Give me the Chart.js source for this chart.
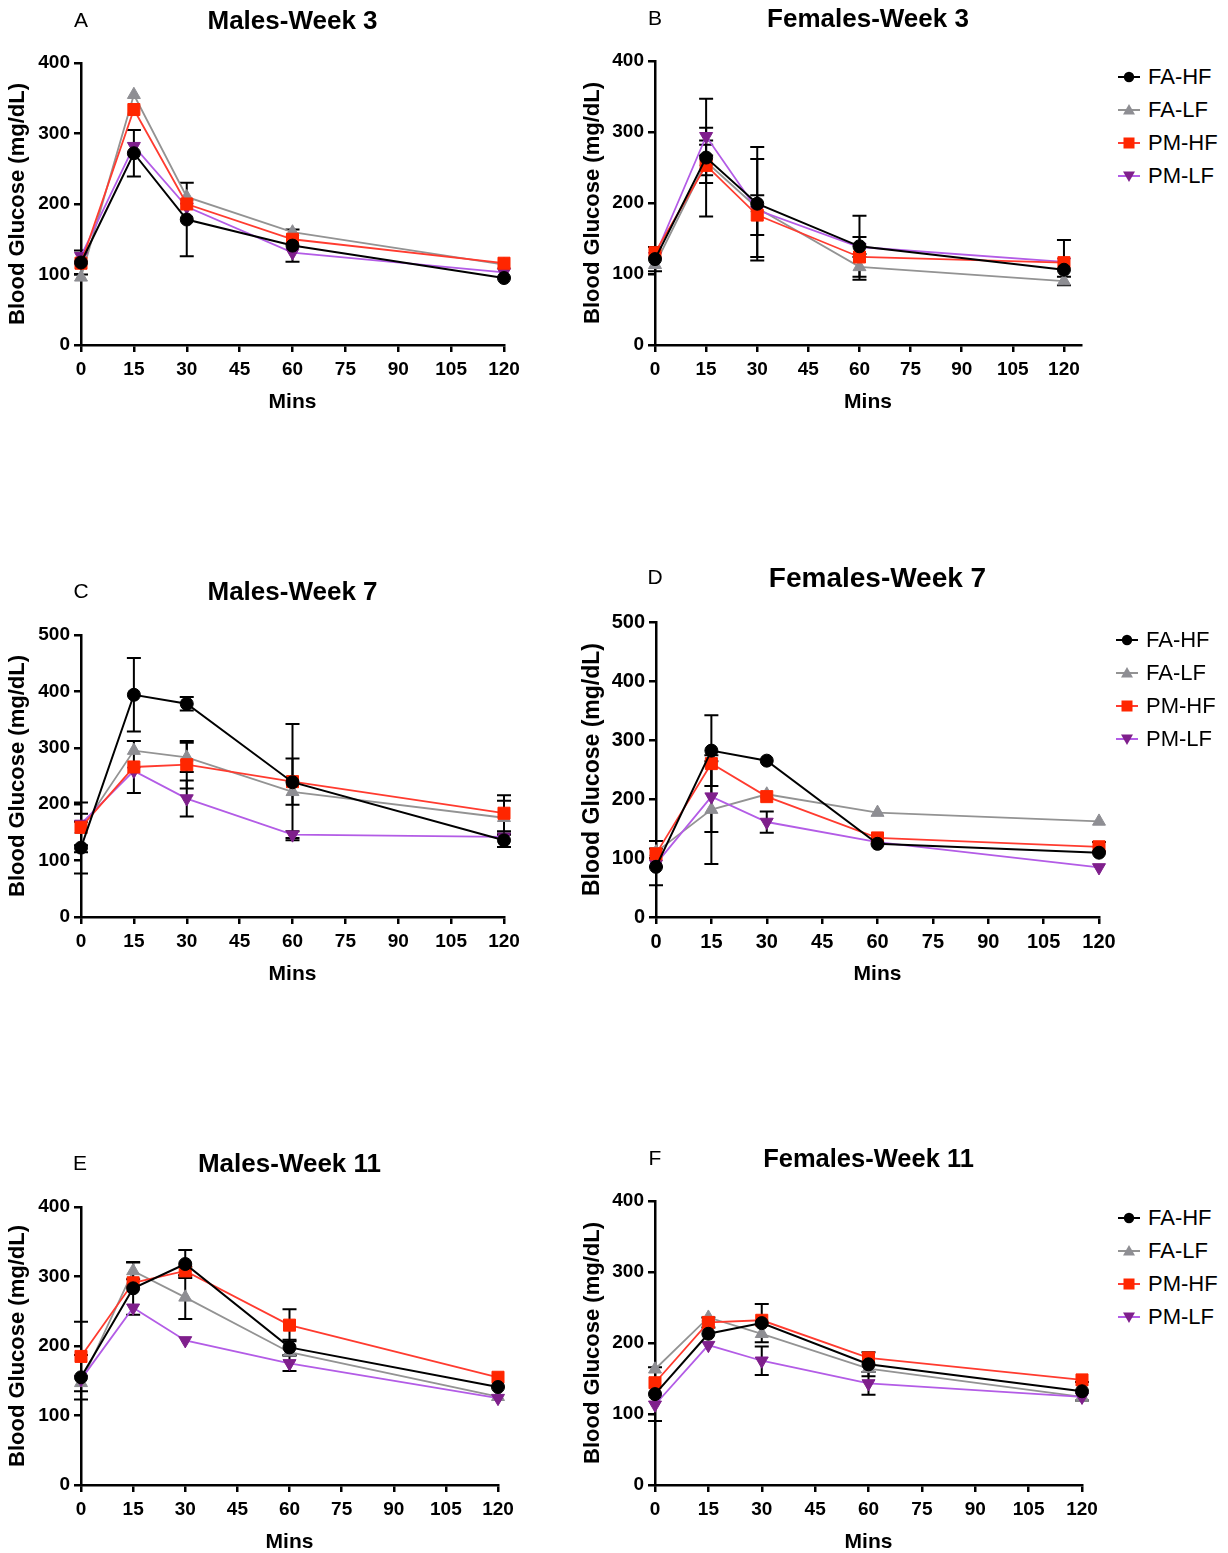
<!DOCTYPE html>
<html><head><meta charset="utf-8">
<script src="https://cdn.jsdelivr.net/npm/chart.js@4.4.1/dist/chart.umd.min.js"></script>
<style>
html,body{margin:0;padding:0;background:#fff;}
body{width:1228px;height:1553px;position:relative;overflow:hidden;font-family:"Liberation Sans",Arial,Helvetica,sans-serif;}
.letter{position:absolute;font-size:21px;line-height:24px;color:#000;transform:translate(-50%,-50%);}
.legrow{position:absolute;height:24px;display:flex;align-items:center;font-size:22px;color:#000;white-space:nowrap;}
.legrow svg{display:block;margin-right:8px;}
</style></head><body>
<script>
// ---------- data ----------
const minutes = [0, 15, 30, 60, 120];
const seriesNames = ['FA-HF', 'FA-LF', 'PM-HF', 'PM-LF'];
const panelLetters = ['A', 'B', 'C', 'D', 'E', 'F'];
const panelTitles = ['Males-Week 3', 'Females-Week 3', 'Males-Week 7', 'Females-Week 7', 'Males-Week 11', 'Females-Week 11'];
const yAxisTitle = 'Blood Glucose (mg/dL)';
const xAxisTitle = 'Mins';
const xTickValues = [0, 15, 30, 45, 60, 75, 90, 105, 120];
const yTickStep = 100;
const yAxisMax = [400, 400, 500, 500, 400, 400];

// rows: FA-HF, FA-LF, PM-HF, PM-LF ; columns follow `minutes`
const meanA = [[117, 272, 178, 141, 95], [96, 355, 210, 160, 114], [116, 334, 200, 150, 116], [126, 282, 196, 131, 103]];
const semA  = [[17, 33, 52, 23, 0], [0, 0, 0, 0, 0], [0, 0, 0, 0, 0], [0, 0, 0, 0, 0]];
const meanB = [[121, 264, 199, 139, 106], [113, 258, 193, 110, 90], [130, 253, 183, 124, 116], [125, 294, 190, 138, 117]];
const semB  = [[17, 83, 80, 43, [42, 0]], [0, 30, 69, 18, 6], [0, 14, 28, 0, 0], [0, 12, 0, 14, 0]];
const meanC = [[123, 394, 378, 239, 136], [155, 295, 283, 222, 176], [159, 266, 270, 240, 184], [165, 259, 210, 146, 142]];
const semC  = [[46, 65, 12, 103, 12], [28, 0, 26, 0, 30], [44, 46, 42, 41, 32], [0, 0, 32, 6, 0]];
const meanD = [[85, 282, 265, 124, 109], [110, 182, 208, 177, 162], [107, 260, 204, 134, 119], [90, 204, 161, 127, 84]];
const semD  = [[31, 60, 0, 0, 0], [0, 92, 0, 0, 0], [22, 0, 0, 0, 8], [0, 60, 18, 0, 0]];
const meanE = [[155, 283, 318, 198, 141], [147, 308, 270, 191, 127], [185, 291, 308, 230, 155], [152, 255, 208, 175, 125]];
const semE  = [[32, 38, 20, 11, 0], [0, 12, 31, 0, 0], [50, 0, 6, 23, 0], [0, 0, 0, 11, 0]];
const meanF = [[128, 213, 228, 170, 132], [163, 236, 213, 164, 124], [144, 229, 232, 179, 148], [113, 197, 175, 143, 124]];
const semF  = [[38, 0, 27, 17, 13], [0, 0, 0, 0, 0], [0, 7, 0, 0, 0], [0, 0, 20, 16, 0]];

const panelMeans = [meanA, meanB, meanC, meanD, meanE, meanF];
const panelSems = [semA, semB, semC, semD, semE, semF];

// ---------- styling / layout ----------
const FONT = '"Liberation Sans", Arial, Helvetica, sans-serif';
const seriesStyle = [
  { line: '#000000', fill: '#000000', shape: 'circle',   r: 6.5, rot: 0,   w: 2,   order: 0 },
  { line: '#939393', fill: '#8e8e93', shape: 'triangle', r: 7.5, rot: 0,   w: 1.8, order: 3 },
  { line: '#ff3b2f', fill: '#ff2600', shape: 'rect',     r: 8.5, rot: 0,   w: 1.8, order: 1 },
  { line: '#b35ce6', fill: '#7f1f8c', shape: 'triangle', r: 7.5, rot: 180, w: 1.8, order: 2 }
];
const panels = [
  { L: 81,  T: 63,   R: 504,  B: 345,  cx: 0,   xMax: 120, titleY: 22,   titleSize: 26,   yTitleX: 18,  yTitleSize: 22, tickSize: 19, letterX: 81,  letterY: 20 },
  { L: 655, T: 61,   R: 1081, B: 345,  cx: 574, xMax: 125, titleY: 20,   titleSize: 26,   yTitleX: 593, yTitleSize: 22, tickSize: 19, letterX: 655, letterY: 18,  legend: { x: 1118, y: 77 } },
  { L: 81,  T: 635,  R: 504,  B: 917,  cx: 0,   xMax: 120, titleY: 593,  titleSize: 26,   yTitleX: 18,  yTitleSize: 22, tickSize: 19, letterX: 81,  letterY: 591 },
  { L: 656, T: 622,  R: 1099, B: 917,  cx: 575, xMax: 120, titleY: 579,  titleSize: 28,   yTitleX: 593, yTitleSize: 23, tickSize: 20, letterX: 655, letterY: 577, legend: { x: 1116, y: 640 } },
  { L: 81,  T: 1207, R: 498,  B: 1485, cx: 0,   xMax: 120, titleY: 1165, titleSize: 26,   yTitleX: 18,  yTitleSize: 22, tickSize: 19, letterX: 80,  letterY: 1163 },
  { L: 655, T: 1201, R: 1082, B: 1485, cx: 574, xMax: 120, titleY: 1160, titleSize: 25.5, yTitleX: 593, yTitleSize: 22, tickSize: 19, letterX: 655, letterY: 1158, legend: { x: 1118, y: 1218 } }
];
const TOP_AREA = 63, BOTTOM_AREA = 80, RIGHT_PAD = 30;

const errorBarPlugin = {
  id: 'errorBars',
  beforeDatasetsDraw(chart) {
    const ctx = chart.ctx, xs = chart.scales.x, ys = chart.scales.y;
    ctx.save();
    ctx.strokeStyle = '#000';
    ctx.lineWidth = 2;
    chart.data.datasets.forEach(ds => {
      ds.data.forEach((pt, k) => {
        const e = ds.errors[k];
        const up = Array.isArray(e) ? e[0] : e;
        const dn = Array.isArray(e) ? e[1] : e;
        if (!up && !dn) return;
        const px = xs.getPixelForValue(pt.x);
        const yTop = ys.getPixelForValue(pt.y + up);
        const yBot = ys.getPixelForValue(pt.y - dn);
        ctx.beginPath();
        ctx.moveTo(px, yTop); ctx.lineTo(px, yBot);
        if (up) { ctx.moveTo(px - 7, yTop); ctx.lineTo(px + 7, yTop); }
        if (dn) { ctx.moveTo(px - 7, yBot); ctx.lineTo(px + 7, yBot); }
        ctx.stroke();
      });
    });
    ctx.restore();
  }
};

function makeChart(i) {
  const p = panels[i];
  const cy = p.T - TOP_AREA;
  const W = p.R + RIGHT_PAD - p.cx;
  const H = p.B + BOTTOM_AREA - cy;
  const cv = document.createElement('canvas');
  cv.width = W; cv.height = H;
  cv.style.cssText = `position:absolute;left:${p.cx}px;top:${cy}px;width:${W}px;height:${H}px;`;
  document.body.appendChild(cv);

  const tlh = p.titleSize * 1.2;
  const tpt = p.titleY - cy - tlh / 2;
  const tpb = TOP_AREA - tpt - tlh;
  const ylh = p.yTitleSize * 1.2;
  const xlh = 21 * 1.2;

  const datasets = seriesNames.map((name, s) => {
    const st = seriesStyle[s];
    return {
      label: name,
      data: minutes.map((m, k) => ({ x: m, y: panelMeans[i][s][k] })),
      errors: panelSems[i][s],
      borderColor: st.line,
      backgroundColor: st.fill,
      pointBackgroundColor: st.fill,
      pointBorderColor: st.fill,
      pointBorderWidth: 1,
      pointStyle: st.shape,
      pointRadius: st.r,
      pointRotation: st.rot,
      borderWidth: st.w,
      tension: 0,
      order: st.order,
      clip: false
    };
  });

  const tickFont = { family: FONT, size: p.tickSize, weight: 'bold' };
  new Chart(cv, {
    type: 'line',
    data: { datasets },
    plugins: [errorBarPlugin],
    options: {
      responsive: false,
      animation: false,
      devicePixelRatio: 1,
      layout: { padding: { left: 0, top: 0, right: RIGHT_PAD, bottom: 0 } },
      plugins: {
        legend: { display: false },
        tooltip: { enabled: false },
        title: {
          display: true, text: panelTitles[i], fullSize: false, color: '#000',
          font: { family: FONT, size: p.titleSize, weight: 'bold', lineHeight: 1.2 },
          padding: { top: tpt, bottom: tpb }
        }
      },
      scales: {
        x: {
          type: 'linear', min: 0, max: p.xMax,
          afterBuildTicks: ax => { ax.ticks = xTickValues.map(v => ({ value: v })); },
          ticks: { autoSkip: false, maxRotation: 0, padding: 6, color: '#000', font: tickFont },
          grid: { display: true, drawOnChartArea: false, drawTicks: true, tickLength: 7, color: '#000', lineWidth: 2.5 },
          border: { display: true, color: '#000', width: 2.5 },
          title: { display: true, text: xAxisTitle, color: '#000', font: { family: FONT, size: 21, weight: 'bold', lineHeight: 1.2 }, padding: { top: 0, bottom: BOTTOM_AREA - 57 - xlh / 2 } },
          afterFit: ax => { ax.height = BOTTOM_AREA; }
        },
        y: {
          type: 'linear', min: 0, max: yAxisMax[i],
          ticks: { stepSize: yTickStep, padding: 4, color: '#000', font: tickFont },
          grid: { display: true, drawOnChartArea: false, drawTicks: true, tickLength: 7, color: '#000', lineWidth: 2.5 },
          border: { display: true, color: '#000', width: 2.5 },
          title: { display: true, text: yAxisTitle, color: '#000', font: { family: FONT, size: p.yTitleSize, weight: 'bold', lineHeight: 1.2 }, padding: { top: p.yTitleX - p.cx - ylh / 2, bottom: 0 } },
          afterFit: ax => { ax.width = p.L - p.cx; }
        }
      }
    }
  });

  const lt = document.createElement('div');
  lt.className = 'letter';
  lt.style.left = p.letterX + 'px';
  lt.style.top = p.letterY + 'px';
  lt.textContent = panelLetters[i];
  document.body.appendChild(lt);

  if (p.legend) addLegend(p.legend);
}

function markerSvg(s) {
  const st = seriesStyle[s];
  let shape = '';
  if (st.shape === 'circle') shape = `<circle cx="11" cy="8" r="5.2" fill="${st.fill}"/>`;
  else if (st.shape === 'rect') shape = `<rect x="5.5" y="2.5" width="11" height="11" fill="${st.fill}"/>`;
  else if (st.rot === 0) shape = `<polygon points="11,2 17,12.5 5,12.5" fill="${st.fill}"/>`;
  else shape = `<polygon points="5,3.5 17,3.5 11,14" fill="${st.fill}"/>`;
  return `<svg width="22" height="16" viewBox="0 0 22 16"><line x1="0" y1="8" x2="22" y2="8" stroke="${st.line}" stroke-width="2"/>${shape}</svg>`;
}

function addLegend(lg) {
  seriesNames.forEach((name, s) => {
    const row = document.createElement('div');
    row.className = 'legrow';
    row.style.left = lg.x + 'px';
    row.style.top = (lg.y + 33 * s - 12) + 'px';
    row.innerHTML = markerSvg(s);
    const sp = document.createElement('span');
    sp.textContent = name;
    row.appendChild(sp);
    document.body.appendChild(row);
  });
}

for (let i = 0; i < panels.length; i++) makeChart(i);
</script>
</body></html>
